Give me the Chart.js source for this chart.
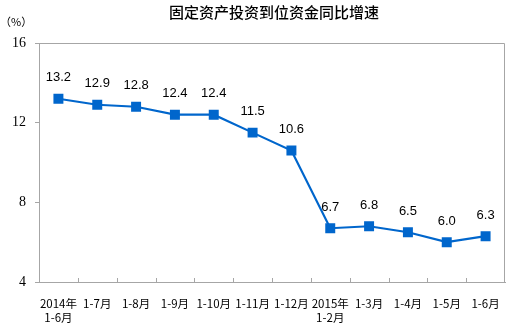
<!DOCTYPE html>
<html>
<head>
<meta charset="utf-8">
<script src="https://cdn.jsdelivr.net/npm/chart.js@4/dist/chart.umd.min.js"></script>
<style>
  html, body { margin: 0; padding: 0; background: #fff; }
  #wrap { width: 516px; height: 328px; position: relative; }
</style>
</head>
<body>
<div id="wrap"><canvas id="Rate_Chart"></canvas></div>
<script>
// 数据
let months = [["2014年", "1-6月"], "1-7月", "1-8月", "1-9月", "1-10月", "1-11月", "1-12月", ["2015年", "1-2月"], "1-3月", "1-4月", "1-5月", "1-6月"];
let growth = [13.2, 12.9, 12.8, 12.4, 12.4, 11.5, 10.6, 6.7, 6.8, 6.5, 6.0, 6.3];
let yTicks = [4, 8, 12, 16];

let titleText = "固定资产投资到位资金同比增速";
let cjk = '"Noto Sans CJK SC", sans-serif';

// Titel, Rahmen, Werte
let extras = {
    id: 'extras',
    afterDraw(chart) {
        let ctx = chart.ctx;
        let a = chart.chartArea;
        ctx.save();
        // title
        ctx.fillStyle = '#000';
        ctx.font = '500 15px ' + cjk;
        ctx.textAlign = 'center';
        ctx.textBaseline = 'middle';
        ctx.fillText(titleText, 274, 12);
        ctx.font = '11px ' + cjk;
        ctx.textAlign = 'left';
        ctx.fillText('（%）', 0, 22);
        // box
        ctx.strokeStyle = '#a6a6a6';
        ctx.lineWidth = 1;
        ctx.beginPath();
        ctx.moveTo(a.left, a.top + 0.5);
        ctx.lineTo(a.right - 0.5, a.top + 0.5);
        ctx.lineTo(a.right - 0.5, a.bottom);
        ctx.stroke();
        // inner ticks on x
        let step = (a.right - a.left) / months.length;
        ctx.beginPath();
        for (let i = 1; i < months.length; i++) {
            let px = Math.round(a.left + i * step) + 0.5;
            ctx.moveTo(px, a.bottom);
            ctx.lineTo(px, a.bottom - 4);
        }
        ctx.stroke();
        // labels
        let meta = chart.getDatasetMeta(0);
        ctx.font = '13px "Liberation Sans", Arial, sans-serif';
        ctx.fillStyle = '#000';
        ctx.textAlign = 'center';
        meta.data.forEach((pt, i) => {
            ctx.fillText(growth[i].toFixed(1), pt.x, pt.y - 21);
        });
        ctx.restore();
    }
};

let rate_c = document.getElementById('Rate_Chart');
let rate_chart = new Chart(rate_c, {
    type: 'line',
    data: {
        labels: months,
        datasets: [{
            label: "同比增速",
            data: growth,
            fill: false,
            borderColor: '#0066cc',
            backgroundColor: '#0066cc',
            borderWidth: 2.2,
            pointStyle: 'rect',
            pointRadius: 5.5,
            pointHoverRadius: 5.5,
            tension: 0
        }]
    },
    options: {
        responsive: true,
        maintainAspectRatio: false,
        animation: false,
        layout: { padding: { top: 43, right: 11, left: 0, bottom: 0 } },
        plugins: {
            legend: { display: false },
            tooltip: { enabled: false }
        },
        scales: {
            x: {
                offset: true,
                grid: { display: false, drawOnChartArea: false },
                border: { display: true, color: '#a6a6a6', width: 1 },
                ticks: {
                    color: '#000',
                    font: { family: cjk, size: 11.5, lineHeight: 1.2 },
                    maxRotation: 0,
                    autoSkip: false,
                    padding: 7
                },
                afterFit(s) { s.height = 46; }
            },
            y: {
                min: 4,
                max: 16,
                afterBuildTicks(s) { s.ticks = yTicks.map(v => ({ value: v })); },
                grid: { drawOnChartArea: false, drawTicks: true, tickLength: 4, color: '#a6a6a6' },
                border: { display: true, color: '#a6a6a6', width: 1 },
                ticks: {
                    color: '#000',
                    font: { family: '"Liberation Serif", serif', size: 14 },
                    padding: 9
                },
                afterFit(s) { s.width = 39; }
            }
        }
    },
    plugins: [extras]
});
</script>
</body>
</html>
